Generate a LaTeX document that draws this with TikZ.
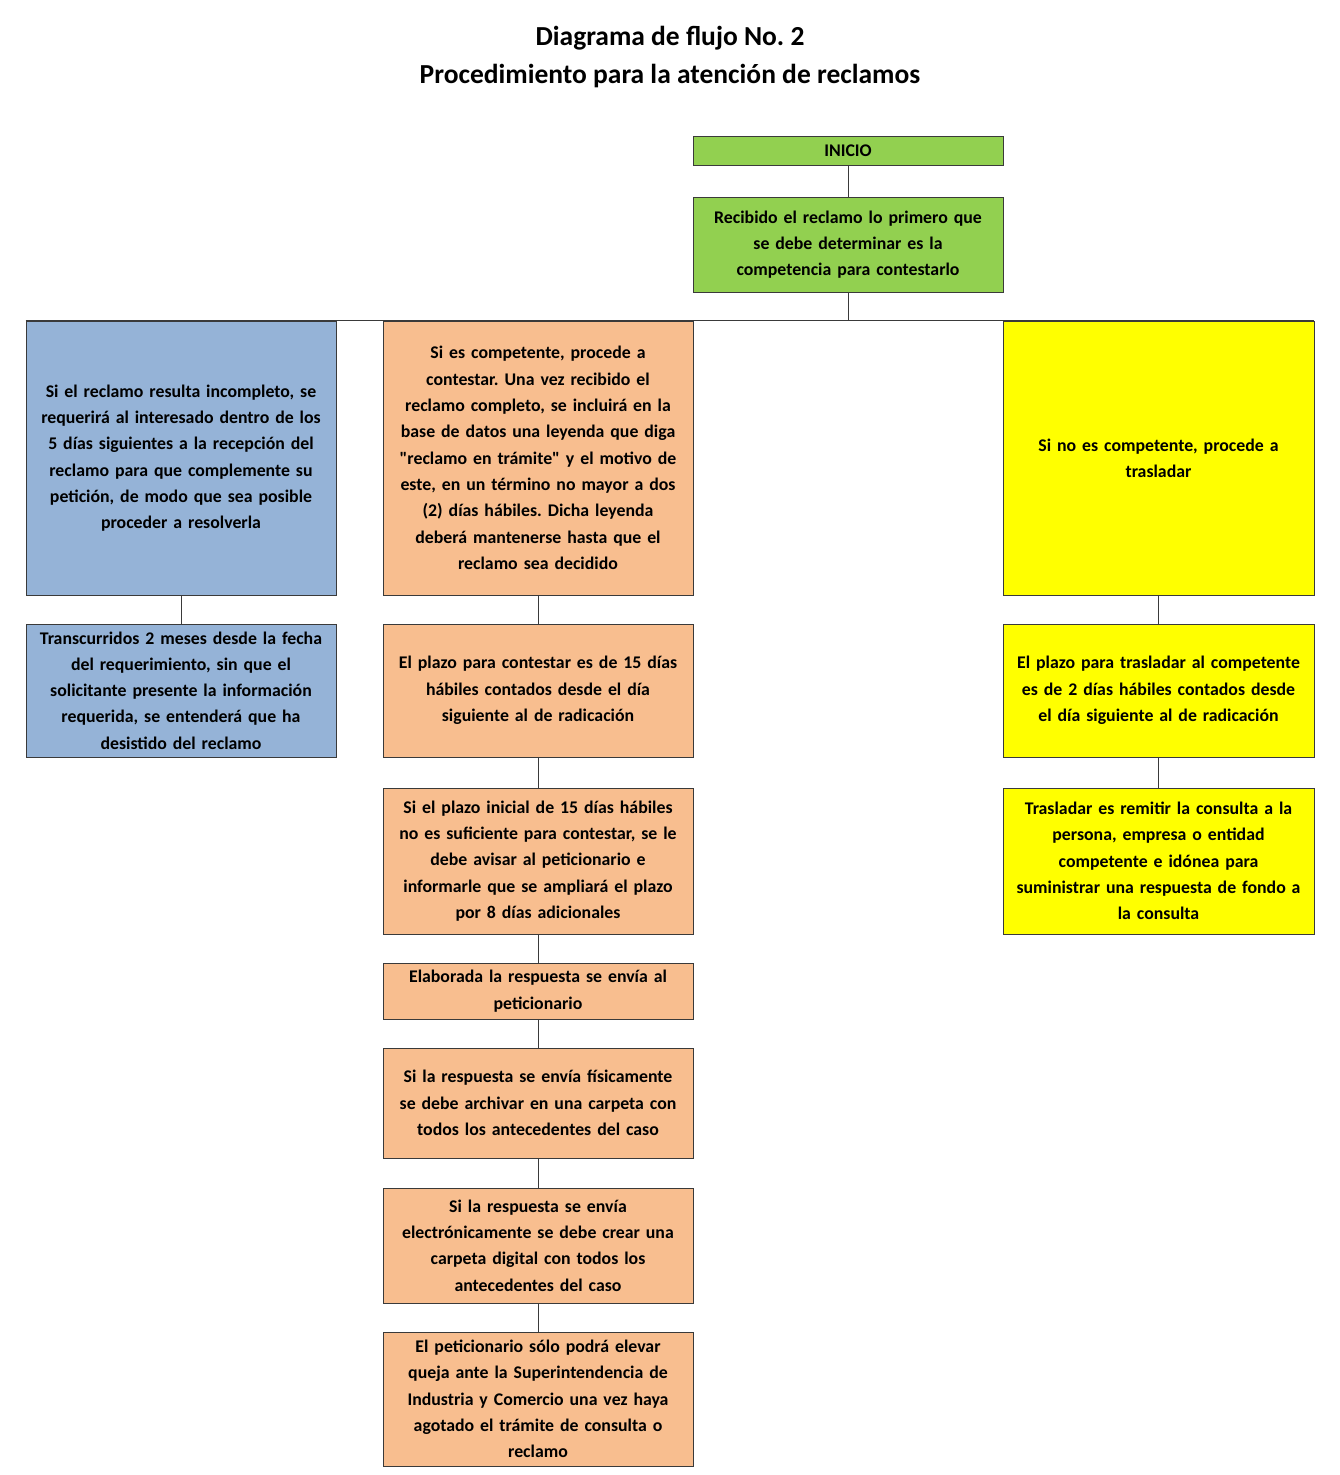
\documentclass[tikz,border=0pt]{standalone}
\usepackage{fontspec}
\setmainfont{Carlito}
\newfontfamily\bodyfont{Carlito}
\frenchspacing
\definecolor{cgreen}{HTML}{92D050}
\definecolor{cblue}{HTML}{95B3D7}
\definecolor{corange}{HTML}{F8BE8F}
\definecolor{cyellow}{HTML}{FFFF00}
\definecolor{cline}{HTML}{3A3A3A}
\tikzset{
  box/.style={draw=cline, line width=0.9pt, inner sep=0pt, align=center,
    font=\bodyfont\fontsize{17.8}{26.3}\selectfont\bfseries},
  conn/.style={draw=cline, line width=0.9pt},
}
\newcommand{\bx}[7]{% name, x1,y1,x2,y2, color, text
  \node[box, fill=#6, minimum width={(#4-#2)*1pt}, minimum height={(#5-#3)*1pt}, text width={(#4-#2-4)*1pt}]
    (#1) at ({(#2+#4)/2*1pt},{-(#3+#5)/2*1pt}) {#7};}
\begin{document}
\begin{tikzpicture}
\useasboundingbox (0,0) rectangle (1340pt,-1475pt);
\node[font=\fontsize{27.5}{38}\selectfont\bfseries, align=center] (title) at (670pt,-57pt)
  {Diagrama de flujo No. 2\\Procedimiento para la atención de reclamos};
\bx{ini}{693}{136}{1003}{165}{cgreen}{INICIO}
\bx{rec}{693}{197}{1003}{292}{cgreen}{Recibido el reclamo lo primero que\\se debe determinar es la\\competencia para contestarlo}
\bx{b1}{26}{321}{336}{595}{cblue}{Si el reclamo resulta incompleto, se\\requerirá al interesado dentro de los\\5 días siguientes a la recepción del\\reclamo para que complemente su\\petición, de modo que sea posible\\proceder a resolverla}
\bx{o1}{383}{321}{693}{595}{corange}{Si es competente, procede a\\contestar. Una vez recibido el\\reclamo completo, se incluirá en la\\base de datos una leyenda que diga\\"reclamo en trámite" y el motivo de\\este, en un término no mayor a dos\\(2) días hábiles. Dicha leyenda\\deberá mantenerse hasta que el\\reclamo sea decidido}
\bx{y1}{1003}{321}{1314}{595}{cyellow}{Si no es competente, procede a\\trasladar}
\bx{b2}{26}{624}{336}{757}{cblue}{Transcurridos 2 meses desde la fecha\\del requerimiento, sin que el\\solicitante presente la información\\requerida, se entenderá que ha\\desistido del reclamo}
\bx{o2}{383}{624}{693}{757}{corange}{El plazo para contestar es de 15 días\\hábiles contados desde el día\\siguiente al de radicación}
\bx{y2}{1003}{624}{1314}{757}{cyellow}{El plazo para trasladar al competente\\es de 2 días hábiles contados desde\\el día siguiente al de radicación}
\bx{o3}{383}{788}{693}{934}{corange}{Si el plazo inicial de 15 días hábiles\\no es suficiente para contestar, se le\\debe avisar al peticionario e\\informarle que se ampliará el plazo\\por 8 días adicionales}
\bx{y3}{1003}{788}{1314}{934}{cyellow}{Trasladar es remitir la consulta a la\\persona, empresa o entidad\\competente e idónea para\\suministrar una respuesta de fondo a\\la consulta}
\bx{o4}{383}{963}{693}{1019}{corange}{Elaborada la respuesta se envía al\\peticionario}
\bx{o5}{383}{1048}{693}{1158}{corange}{Si la respuesta se envía físicamente\\se debe archivar en una carpeta con\\todos los antecedentes del caso}
\bx{o6}{383}{1188}{693}{1303}{corange}{Si la respuesta se envía\\electrónicamente se debe crear una\\carpeta digital con todos los\\antecedentes del caso}
\bx{o7}{383}{1332}{693}{1466}{corange}{El peticionario sólo podrá elevar\\queja ante la Superintendencia de\\Industria y Comercio una vez haya\\agotado el trámite de consulta o\\reclamo}
% connectors
\draw[conn] (ini.south) -- (rec.north);
\coordinate (bus) at (rec.south |- b1.north);
\draw[conn] (rec.south) -- (bus);
\draw[conn] (b1.north west) -- (y1.north east);
\draw[conn] (b1.south) -- (b2.north);
\draw[conn] (o1.south) -- (o2.north);
\draw[conn] (o2.south) -- (o3.north);
\draw[conn] (o3.south) -- (o4.north);
\draw[conn] (o4.south) -- (o5.north);
\draw[conn] (o5.south) -- (o6.north);
\draw[conn] (o6.south) -- (o7.north);
\draw[conn] (y1.south) -- (y2.north);
\draw[conn] (y2.south) -- (y3.north);
\end{tikzpicture}
\end{document}
